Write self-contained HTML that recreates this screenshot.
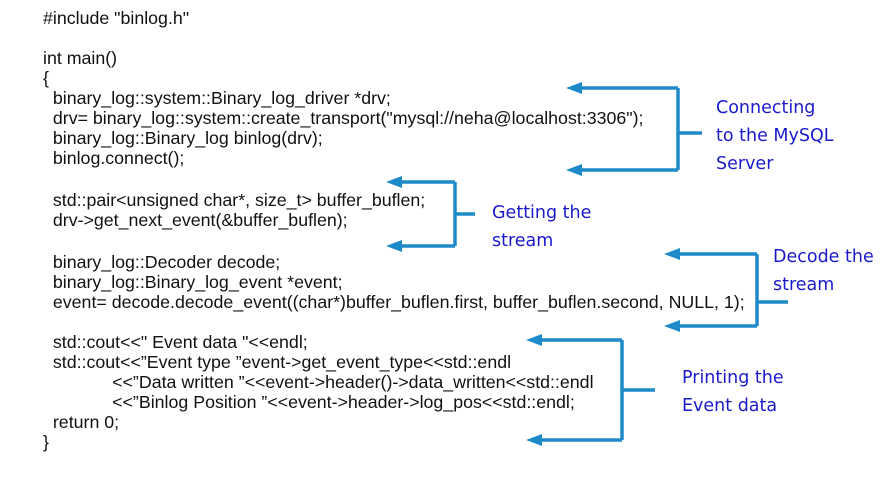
<!DOCTYPE html>
<html><head><meta charset="utf-8"><style>
body{margin:0;width:886px;height:499px;background:#fff;position:relative;overflow:hidden;font-family:"Liberation Sans",sans-serif}
.c{position:absolute;font-size:17.8px;color:#111;white-space:pre;line-height:20px}
.l{position:absolute;font-family:"Comic Sans MS","DejaVu Sans",sans-serif;font-size:17.5px;color:#1a1acc;line-height:28px;white-space:pre}
</style></head><body>
<div class="c" style="left:43px;top:8px">#include "binlog.h"</div>
<div class="c" style="left:43px;top:48px">int main()
{
  binary_log::system::Binary_log_driver *drv;
  drv= binary_log::system::create_transport("mysql://neha@localhost:3306");
  binary_log::Binary_log binlog(drv);
  binlog.connect();</div>
<div class="c" style="left:43px;top:190px">  std::pair&lt;unsigned char*, size_t&gt; buffer_buflen;
  drv-&gt;get_next_event(&amp;buffer_buflen);</div>
<div class="c" style="left:43px;top:252px">  binary_log::Decoder decode;
  binary_log::Binary_log_event *event;
  event= decode.decode_event((char*)buffer_buflen.first, buffer_buflen.second, NULL, 1);</div>
<div class="c" style="left:43px;top:332px">  std::cout&lt;&lt;" Event data "&lt;&lt;endl;
  std::cout&lt;&lt;”Event type ”event-&gt;get_event_type&lt;&lt;std::endl
              &lt;&lt;”Data written ”&lt;&lt;event-&gt;header()-&gt;data_written&lt;&lt;std::endl
              &lt;&lt;”Binlog Position ”&lt;&lt;event-&gt;header-&gt;log_pos&lt;&lt;std::endl;
  return 0;
}</div>
<svg width="886" height="499" style="position:absolute;left:0;top:0">
<g stroke="#1f8ac9" stroke-width="3.5" fill="none">
<path d="M678,88 H580 M678,170 H580 M678,88 V170 M678,133 H702"/>
<path d="M455,182 H400 M455,246 H400 M455,182 V246 M455,214 H475"/>
<path d="M757,254 H678 M757,326 H678 M757,254 V326 M757,302 H788"/>
<path d="M622,340 H540 M622,440 H540 M622,340 V440 M622,390 H655"/>
</g>
<g fill="#1f8ac9">
<path d="M566,88 l16,-6 v12 z"/><path d="M566,170 l16,-6 v12 z"/>
<path d="M386,182 l16,-6 v12 z"/><path d="M386,246 l16,-6 v12 z"/>
<path d="M664,254 l16,-6 v12 z"/><path d="M664,326 l16,-6 v12 z"/>
<path d="M526,340 l16,-6 v12 z"/><path d="M526,440 l16,-6 v12 z"/>
</g></svg>
<div class="l" style="left:716px;top:94px">Connecting
to the MySQL
Server</div>
<div class="l" style="left:492px;top:199px">Getting the
stream</div>
<div class="l" style="left:773px;top:243px">Decode the
stream</div>
<div class="l" style="left:682px;top:364px">Printing the
Event data</div>
</body></html>
